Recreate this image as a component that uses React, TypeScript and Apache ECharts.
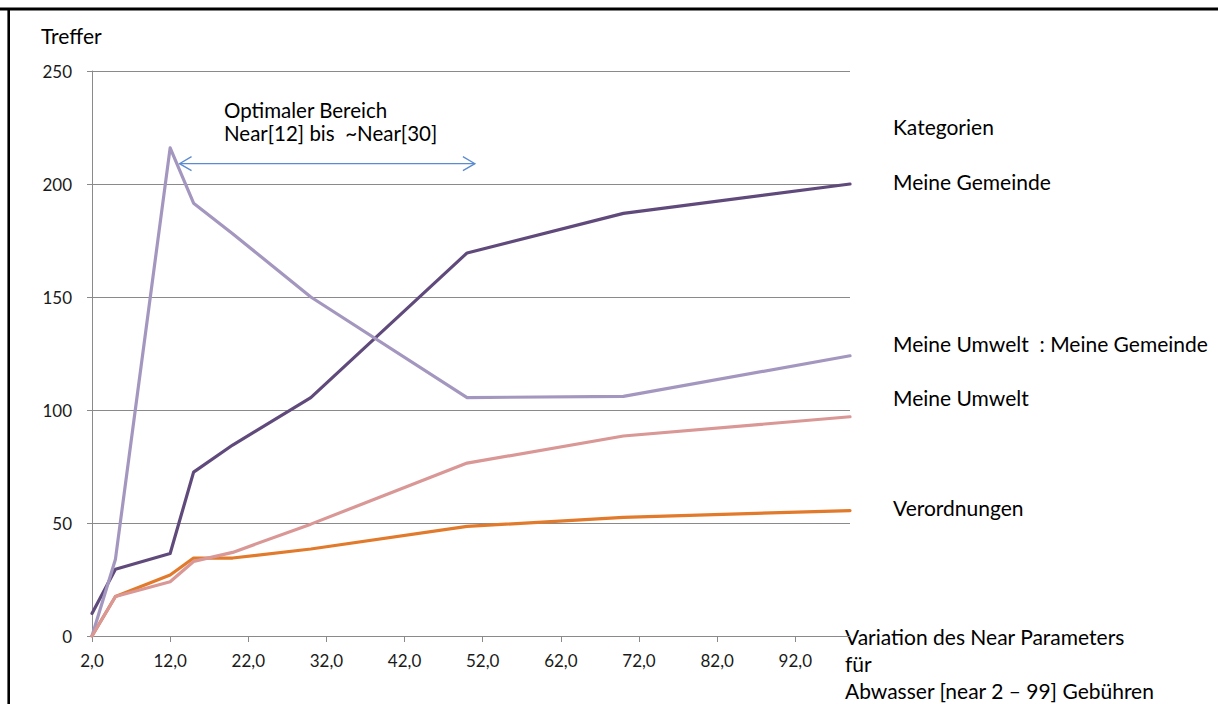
import React, { useEffect, useRef } from "react";
import * as echarts from "echarts";

// ---- data ----
const nearValues = [2, 5, 12, 15, 20, 30, 50, 70, 99];
const meineGemeinde = [10, 29.5, 36.5, 72.5, 84.5, 105.5, 169.5, 187, 200];
const umweltZuGemeinde = [0, 34, 216, 191.5, 178, 150, 105.5, 106, 124];
const meineUmwelt = [0, 17.5, 24, 33, 37, 49.5, 76.5, 88.5, 97];
const verordnungen = [0, 17.5, 27, 34.5, 34.5, 38.5, 48.5, 52.5, 55.5];

const xTickValues = [2, 12, 22, 32, 42, 52, 62, 72, 82, 92];
const yTickValues = [0, 50, 100, 150, 200, 250];

const categoryLabels = [
  "Kategorien",
  "Meine Gemeinde",
  "Meine Umwelt  : Meine Gemeinde",
  "Meine Umwelt",
  "Verordnungen",
];
const xAxisTitle = ["Variation des Near Parameters", "für", "Abwasser [near 2 – 99] Gebühren"];
const annotationLines = ["Optimaler Bereich", "Near[12] bis  ~Near[30]"];
const arrowFrom = [13.2, 209];
const arrowTo = [51, 209];

const FONT = "Lato, 'Open Sans', sans-serif";
const GRID_COLOR = "#8a8a8a";
const TEXT_COLOR = "#1a1a1a";

function pairs(vals: number[]) {
  return nearValues.map((x, i) => [x, vals[i]]);
}

export default function App() {
  const ref = useRef<HTMLDivElement>(null);

  useEffect(() => {
    if (!ref.current) return;
    const chart = echarts.init(ref.current, null, { renderer: "svg" });

    const lineSeries = (name: string, vals: number[], color: string) => ({
      type: "line",
      name,
      data: pairs(vals),
      showSymbol: false,
      symbol: "none",
      lineStyle: { width: 3.2, color, cap: "round", join: "round" },
      itemStyle: { color },
      emphasis: { disabled: true },
    });

    chart.setOption({
      animation: false,
      backgroundColor: "#ffffff",
      grid: { left: 92, right: 368, top: 71, bottom: 68 },
      xAxis: {
        type: "value",
        min: 2,
        max: 99,
        splitLine: { show: false },
        axisLine: { show: true, lineStyle: { color: GRID_COLOR, width: 1 } },
        axisTick: {
          show: true,
          length: 6,
          customValues: xTickValues,
          lineStyle: { color: GRID_COLOR },
        },
        axisLabel: {
          customValues: xTickValues,
          margin: 16,
          fontFamily: FONT,
          fontSize: 17,
          color: TEXT_COLOR,
          formatter: (v: number) => v.toFixed(1).replace(".", ","),
        },
      },
      yAxis: {
        type: "value",
        min: 0,
        max: 250,
        interval: 50,
        axisLine: { show: true, lineStyle: { color: GRID_COLOR, width: 1 } },
        axisTick: { show: true, length: 5, lineStyle: { color: GRID_COLOR } },
        splitLine: { show: true, lineStyle: { color: GRID_COLOR, width: 1 } },
        axisLabel: {
          margin: 20,
          fontFamily: FONT,
          fontSize: 17,
          color: TEXT_COLOR,
          customValues: yTickValues,
        },
      },
      series: [
        lineSeries("Meine Gemeinde", meineGemeinde, "#604a7b"),
        lineSeries("Verordnungen", verordnungen, "#e27a2c"),
        lineSeries("Meine Umwelt : Meine Gemeinde", umweltZuGemeinde, "#a497bf"),
        lineSeries("Meine Umwelt", meineUmwelt, "#d99795"),
      ],
    });

    const p1 = chart.convertToPixel({ gridIndex: 0 }, arrowFrom) as number[];
    const p2 = chart.convertToPixel({ gridIndex: 0 }, arrowTo) as number[];
    const arrowColor = "#5b8bd0";
    const headDx = 12;
    const headDy = 7;

    const textStyle = (size: number) => ({
      fontFamily: FONT,
      fontSize: size,
      fill: "#000000",
      verticalAlign: "middle",
      align: "left",
    });

    const labelYs = [126, 181, 343, 397, 507];
    const graphics: any[] = [
      // frame
      { type: "line", shape: { x1: 0, y1: 9, x2: 1218, y2: 9 }, style: { stroke: "#000", lineWidth: 3 }, silent: true },
      { type: "line", shape: { x1: 8.7, y1: 8, x2: 8.7, y2: 704 }, style: { stroke: "#000", lineWidth: 2.6 }, silent: true },
      // y-axis title
      { type: "text", left: 41, top: 25, style: { text: "Treffer", ...textStyle(21), verticalAlign: "top" } },
      // annotation text
      { type: "text", x: 224, y: 110, style: { text: annotationLines[0], ...textStyle(20.5) } },
      { type: "text", x: 224, y: 133, style: { text: annotationLines[1], ...textStyle(20.5) } },
      // arrow
      {
        type: "line",
        shape: { x1: p1[0], y1: p1[1], x2: p2[0], y2: p2[1] },
        style: { stroke: arrowColor, lineWidth: 1.3 },
      },
      {
        type: "polyline",
        shape: { points: [[p1[0] + headDx, p1[1] - headDy], [p1[0], p1[1]], [p1[0] + headDx, p1[1] + headDy]] },
        style: { stroke: arrowColor, lineWidth: 1.3, fill: null },
      },
      {
        type: "polyline",
        shape: { points: [[p2[0] - headDx, p2[1] - headDy], [p2[0], p2[1]], [p2[0] - headDx, p2[1] + headDy]] },
        style: { stroke: arrowColor, lineWidth: 1.3, fill: null },
      },
    ];
    categoryLabels.forEach((t, i) => {
      graphics.push({ type: "text", x: 893, y: labelYs[i], style: { text: t, ...textStyle(21) } });
    });
    const titleYs = [636, 663, 690];
    xAxisTitle.forEach((t, i) => {
      graphics.push({ type: "text", x: 845, y: titleYs[i], style: { text: t, ...textStyle(21) } });
    });

    chart.setOption({ graphic: graphics });

    return () => chart.dispose();
  }, []);

  return (
    <div
      ref={ref}
      style={{ position: "absolute", left: 0, top: 0, width: 1218, height: 704, background: "#fff" }}
    />
  );
}
